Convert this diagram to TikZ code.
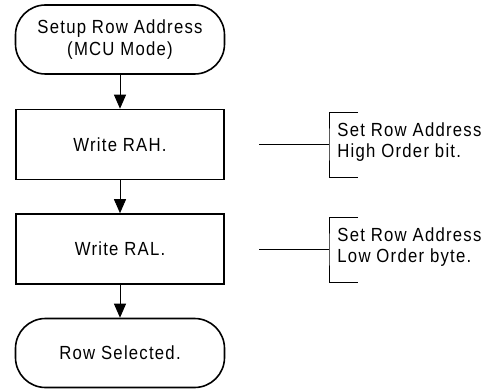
\documentclass[tikz,border=0pt]{standalone}
\usepackage{fontspec}
\setmainfont[LetterSpace=6.5,FakeStretch=0.88]{Liberation Sans}
\usetikzlibrary{shapes,arrows.meta,positioning}
\tikzstyle{terminal} = [draw, line width=1.6pt, fill=white, rectangle,
    rounded corners=30pt, minimum height=69pt, minimum width=209pt, align=center]
\tikzstyle{block} = [draw, line width=1.6pt, fill=white, rectangle,
    minimum height=70pt, minimum width=208pt, align=center]
\tikzstyle{note} = [anchor=west, align=left, inner sep=0pt]
\tikzstyle{tap} = [coordinate]

\begin{document}
\begin{tikzpicture}[x=1pt, y=1pt, node distance=104.5pt,
    every node/.style={font=\fontsize{19}{21.5}\selectfont},
    >={Triangle[width=12pt,length=14pt]}, line width=0.9pt]
    \useasboundingbox (0,0) rectangle (500,-390);
    % The flow goes straight down
    \node [terminal] (setup) at (120,-39.5) {Setup Row Address\\(MCU Mode)};
    \node [block, below of=setup, node distance=105pt] (rah) {Write RAH.};
    \node [block, below of=rah] (ral) {Write RAL.};
    \node [terminal, below of=ral, node distance=104pt] (selected) {Row Selected.};

    \draw [->] (setup) -- (rah);
    \draw [->] (rah) -- (ral);
    \draw [->] (ral) -- (selected);

    % Notes on the right, each one hangs on a bracket
    \node [note] (rahnote) at (337,-142) {Set Row Address\\High Order bit.};
    \coordinate (rahtap) at (259,-144);
    \coordinate (rahjoin) at (329,-144);
    \coordinate (rahtop) at (358,-112);
    \coordinate (rahbot) at (358,-177);
    \draw (rahtap) -- (rahjoin);
    \draw (rahtop) -| (rahjoin) |- (rahbot);

    \node [note] (ralnote) at (337,-247) {Set Row Address\\Low Order byte.};
    \coordinate (raltap) at (259,-249);
    \coordinate (raljoin) at (329,-249);
    \coordinate (raltop) at (358,-217);
    \coordinate (ralbot) at (358,-282);
    \draw (raltap) -- (raljoin);
    \draw (raltop) -| (raljoin) |- (ralbot);
\end{tikzpicture}
\end{document}
